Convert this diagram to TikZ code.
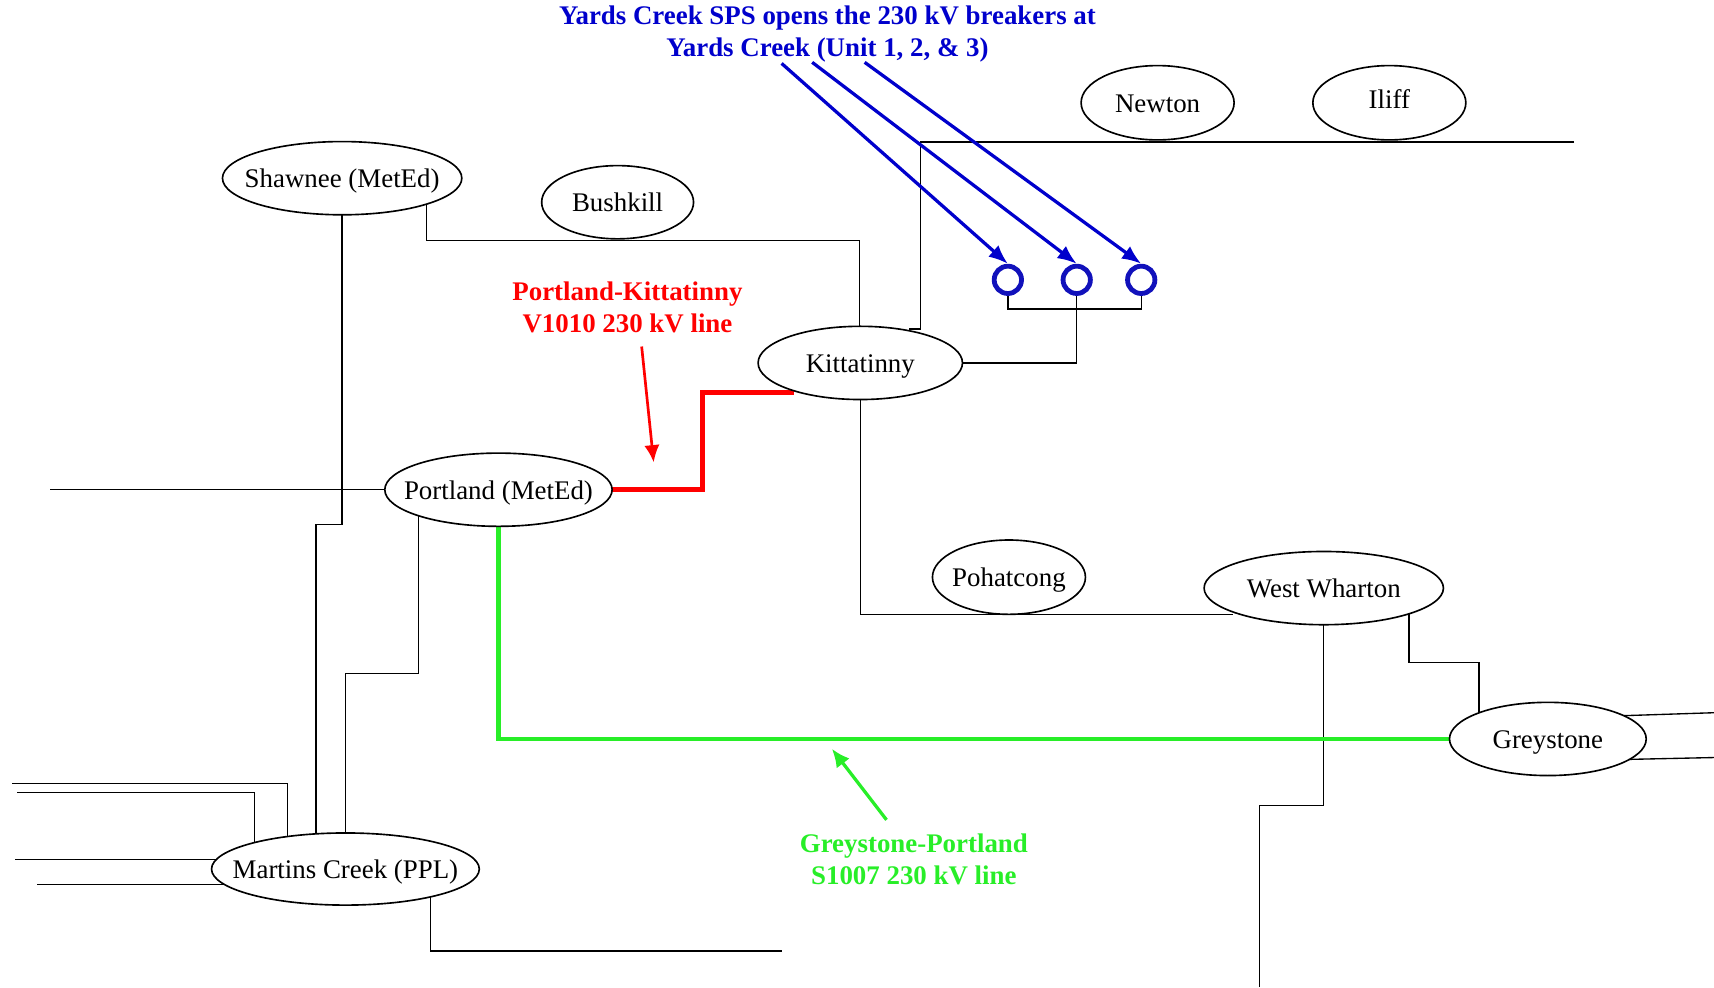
\documentclass[tikz,border=0pt]{standalone}
\usepackage{fontspec}
\setmainfont{Liberation Serif}
\usetikzlibrary{shapes.geometric,arrows.meta,calc}
\pgfdeclarelayer{bg}
\pgfsetlayers{bg,main}
\definecolor{sblue}{RGB}{0,0,204}
\definecolor{cblue}{RGB}{17,17,187}
\definecolor{sred}{RGB}{255,0,0}
\definecolor{sgreen}{RGB}{40,238,40}
\begin{document}
\begin{tikzpicture}[x=0.02cm,y=-0.02cm,
  stn/.style={ellipse,draw,fill=white,line width=0.85pt,inner sep=0pt,text height=9.8pt,text depth=0pt,font=\fontsize{14}{16}\selectfont},
  wire/.style={line width=0.7pt},
  brk/.style={circle,draw=cblue,line width=2.5pt,minimum size=0.5cm,inner sep=0pt},
  lbl/.style={align=center,font=\fontsize{14}{16.5}\selectfont\bfseries},
  barrow/.style={draw=sblue,line width=1.7pt,-{Latex[length=10pt,width=8pt]}},
  rarrow/.style={draw=sred,line width=1.4pt,-{Latex[length=9pt,width=8pt]}},
  garrow/.style={draw=sgreen,line width=1.7pt,-{Latex[length=9.5pt,width=8.5pt]}}]
\useasboundingbox (0,0) rectangle (1568,903);

% stations
\node[stn,minimum width=4.38cm,minimum height=1.34cm] (shawnee) at (313,163) {\makebox[0pt]{Shawnee (MetEd)}};
\node[stn,minimum width=2.78cm,minimum height=1.34cm] (bushkill) at (565,185) {\makebox[0pt]{Bushkill}};
\node[stn,minimum width=2.8cm,minimum height=1.36cm] (newton) at (1059,94) {\makebox[0pt]{Newton}};
\node[stn,minimum width=2.8cm,minimum height=1.36cm] (iliff) at (1271,94) {\makebox[0pt]{\raisebox{2pt}{Iliff}}};
\node[stn,minimum width=3.74cm,minimum height=1.34cm] (kitt) at (787,332) {\makebox[0pt]{Kittatinny}};
\node[stn,minimum width=4.16cm,minimum height=1.34cm] (portland) at (456,448) {\makebox[0pt]{Portland (MetEd)}};
\node[stn,minimum width=2.8cm,minimum height=1.36cm] (pohat) at (923,528) {\makebox[0pt]{Pohatcong}};
\node[stn,minimum width=4.38cm,minimum height=1.34cm] (wwharton) at (1211,538) {\makebox[0pt]{West Wharton}};
\node[stn,minimum width=3.6cm,minimum height=1.34cm] (grey) at (1416,676) {\makebox[0pt]{Greystone}};
\node[stn,minimum width=4.9cm,minimum height=1.32cm] (martins) at (316,795) {\makebox[0pt]{Martins Creek (PPL)}};

% breakers
\node[brk] (b1) at (922,256) {};
\node[brk] (b2) at (985,256) {};
\node[brk] (b3) at (1044,256) {};

% free ends
\coordinate (ne) at (1440,130);
\coordinate (pl) at (46,448);
\coordinate (m1) at (11,717);
\coordinate (m2) at (16,725);
\coordinate (m3) at (14,786);
\coordinate (m4) at (34,809);
\coordinate (mb) at (715,870);
\coordinate (wb) at (1152,903);
\coordinate (g1) at (1568,652);
\coordinate (g2) at (1568,693);

\begin{pgfonlayer}{bg}
\draw[wire] (shawnee.center) |- (289,480) |- (martins.center);
\draw[wire] (shawnee.center -| 390,0) |- (786,220) -- (kitt.center -| 786,0);
\draw[wire] (ne) -| (842,301) -- (832,301);
\draw[wire] (b1.south) -- ++(0,12) -| (b3.south);
\draw[wire] (b2.south) |- (kitt.center);
\draw[wire] (kitt.center) |- (1128,562);
\draw[wire] (wwharton.center) |- (1152,737) -- (wb);
\draw[wire] (wwharton.center -| 1289,0) |- (1353,606) -- (grey.center -| 1353,0);
\draw[wire] ($(grey.center)+(60,-21)$) -- (g1);
\draw[wire] ($(grey.center)+(60,19)$) -- (g2);
\draw[wire] (pl) -- (portland.center);
\draw[wire] (portland.center -| 383,0) |- (316,616) -- (martins.center);
\draw[wire] (m1) -| ($(martins.center)+(-53,0)$);
\draw[wire] (m2) -| ($(martins.center)+(-83,0)$);
\draw[wire] (m3) -- ($(martins.center)+(0,-9)$);
\draw[wire] (m4) -- ($(martins.center)+(0,14)$);
\draw[wire] ($(martins.center)+(78,0)$) |- (mb);
% highlighted lines
\draw[sred,line width=2.7pt] (portland.center) -| (643,359) -- (726,359);
\draw[sgreen,line width=2.3pt] (portland.center) |- (grey.center);
\end{pgfonlayer}

% labels
\node[lbl,text=sblue] (ttl) at (757,31) {Yards Creek SPS opens the 230 kV breakers at\\Yards Creek (Unit 1, 2, \& 3)};
\node[lbl,text=sred] (rl) at (574,281) {Portland-Kittatinny\\V1010 230 kV line};
\node[lbl,text=sgreen] (gl) at (836,786) {Greystone-Portland\\S1007 230 kV line};

% pointer arrows
\coordinate (t1) at (715,58);
\coordinate (t2) at (743,57);
\coordinate (t3) at (791,57);
\draw[barrow] (t1) -- (b1.north);
\draw[barrow] (t2) -- (b2.north);
\draw[barrow] (t3) -- (b3.north);
\coordinate (rt) at (587,317);
\coordinate (rh) at (598,423);
\draw[rarrow] (rt) -- (rh);
\coordinate (gt) at (811,750);
\coordinate (gh) at (761,685);
\draw[garrow] (gt) -- (gh);
\end{tikzpicture}
\end{document}
